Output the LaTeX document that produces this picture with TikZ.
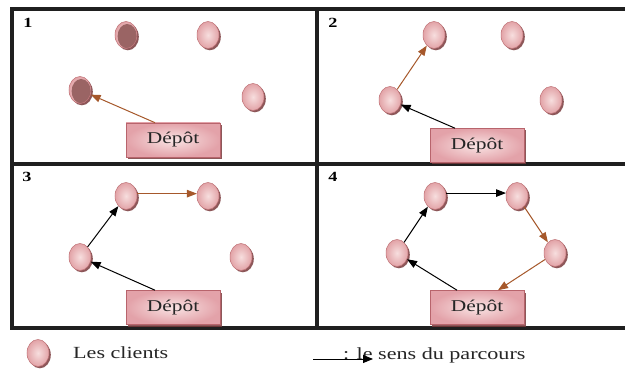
\documentclass[tikz,border=0pt]{standalone}
\usepackage{fontspec}
\setmainfont{Liberation Serif}[FakeStretch=1.3]
\usetikzlibrary{shapes.geometric,shadows,arrows.meta}
\definecolor{cin}{HTML}{F7DEDE}
\definecolor{cout}{HTML}{E2A3A7}
\definecolor{cbord}{HTML}{C07478}
\definecolor{cshad}{HTML}{7A3A3C}
\definecolor{cdark}{HTML}{9A6464}
\definecolor{brn}{HTML}{A6582B}
\definecolor{din}{HTML}{F9E4E4}
\definecolor{dout}{HTML}{E3A2A9}
\definecolor{dbord}{HTML}{B8646C}
\begin{document}
\begin{tikzpicture}[x=1pt,y=-1pt,
  frame/.style={line width=4pt, line join=miter, draw=black!88},
  client/.style={ellipse, minimum width=22pt, minimum height=27pt, inner sep=0pt,
    draw=cbord, line width=0.5pt, inner color=cin, outer color=cout,
    drop shadow={shadow xshift=1.8pt, shadow yshift=-1.8pt, fill=cshad, opacity=0.85}},
  visited/.style={client, path picture={\fill[cdark] ([shift={(1.2pt,-1.2pt)}]path picture bounding box.center) ellipse (9.6pt and 12.2pt);}},
  depot/.style={rectangle, minimum width=94pt, minimum height=34pt, inner sep=0pt,
    draw=dbord, line width=0.6pt, inner color=din, outer color=dout,
    drop shadow={shadow xshift=2pt, shadow yshift=-2pt, fill=cshad, opacity=0.85},
    font=\fontsize{16.5}{18}\selectfont, text=black!85},
  num/.style={inner sep=0pt, font=\bfseries\fontsize{14}{14}\selectfont},
  legend/.style={inner sep=0pt, font=\fontsize{17}{19}\selectfont, text=black!85},
  karrow/.style={draw=black, line width=1pt, -{Triangle[length=10pt,width=7.5pt]}},
  barrow/.style={draw=brn, line width=1pt, -{Triangle[length=10pt,width=7.5pt]}},
]
\useasboundingbox (0,0) rectangle (625,369);
\fill[white] (0,0) rectangle (625,369);
% frame
\draw[frame] (625,9) -- (12,9) -- (12,327.5) -- (625,327.5);
\draw[frame] (316.5,9) -- (316.5,327.5);
\draw[frame] (12,164) -- (625,164);
% panel numbers
\node[num] (n1) at (28,23) {1};
\node[num] (n2) at (333,23) {2};
\node[num] (n3) at (27,177) {3};
\node[num] (n4) at (333,177) {4};
% panel 1
\node[visited] (a1) at (126,35) {};
\node[client] (b1) at (208,35) {};
\node[visited] (c1) at (80,90) {};
\node[client] (e1) at (253,97) {};
\node[depot] (d1) at (173,140) {Dépôt};
% panel 2
\node[client] (a2) at (434,35) {};
\node[client] (b2) at (512,35) {};
\node[client] (c2) at (390,100) {};
\node[client] (e2) at (551,100) {};
\node[depot] (d2) at (477,145.5) {Dépôt};
% panel 3
\node[client] (a3) at (126,196) {};
\node[client] (b3) at (208,196) {};
\node[client] (c3) at (80,257) {};
\node[client] (e3) at (241,257) {};
\node[depot] (d3) at (173,307.5) {Dépôt};
% panel 4
\node[client] (a4) at (435,196) {};
\node[client] (b4) at (517,196) {};
\node[client] (c4) at (397,253) {};
\node[client] (e4) at (555,253) {};
\node[depot] (d4) at (477,307.5) {Dépôt};
% arrows
\draw[barrow] ([xshift=-18pt]d1.north) -- (c1);
\draw[karrow] ([xshift=-22pt]d2.north) -- (c2);
\draw[barrow] (c2) -- (a2);
\draw[karrow] ([xshift=-18pt]d3.north) -- (c3);
\draw[karrow] (c3) -- (a3);
\draw[barrow] (a3.12) -- (b3.168);
\draw[karrow] ([xshift=-20pt]d4.north) -- (c4);
\draw[karrow] (c4) -- (a4);
\draw[karrow] (a4.15) -- (b4.165);
\draw[barrow] (b4) -- (e4);
\draw[barrow] (e4) -- ([xshift=21pt]d4.north);
% legend
\node[client] (lc) at (38,353) {};
\node[legend, anchor=west] (lt) at (73,353) {Les clients};
\node[legend, anchor=base west] (ls) at (343,359) {: le sens du parcours};
\coordinate (la) at (313,359);
\coordinate (lb) at (373,359);
\draw[draw=black, line width=1pt, -{Triangle[length=10pt,width=8pt]}] (la) -- (lb);
\end{tikzpicture}
\end{document}
